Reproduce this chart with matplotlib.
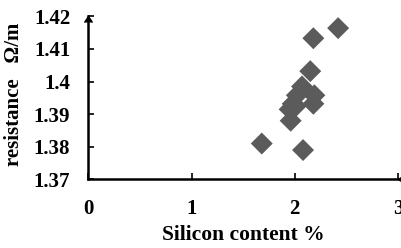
import matplotlib.pyplot as plt

silicon = [2.42, 2.18, 2.15, 2.07, 2.02, 2.19, 1.98, 2.01, 2.18, 1.95, 1.96, 1.68, 2.08]
resistance = [1.4164, 1.4133, 1.4032, 1.3985, 1.3958, 1.3958, 1.3932, 1.3925, 1.3932, 1.3915, 1.3880, 1.3810, 1.3790]

x_ticks = [0, 1, 2, 3]
y_ticks = [1.37, 1.38, 1.39, 1.40, 1.41, 1.42]
y_labels = ["1.37", "1.38", "1.39", "1.4", "1.41", "1.42"]

plt.rcParams['font.family'] = ['Liberation Serif', 'DejaVu Serif']
plt.rcParams['font.weight'] = 'bold'

fig = plt.figure(figsize=(4.01, 2.48), dpi=100)
ax = fig.add_axes([0.2204, 0.2766, 0.7721, 0.6573])

ax.scatter(silicon, resistance, marker='D', s=125, color='#5b5b5b', edgecolors='none', zorder=3)

ax.set_xlim(0, 3)
ax.set_ylim(1.37, 1.42)
ax.set_xticks(x_ticks)
ax.set_yticks(y_ticks)
ax.set_yticklabels(y_labels)
ax.tick_params(direction='in', length=4, width=1.2, labelsize=15)
ax.tick_params(axis='y', pad=13)
ax.tick_params(axis='x', pad=14)
for lbl in ax.get_xticklabels() + ax.get_yticklabels():
    lbl.set_fontweight('bold')

ax.spines['top'].set_visible(False)
ax.spines['right'].set_visible(False)
ax.spines['left'].set_linewidth(1.8)
ax.spines['bottom'].set_linewidth(1.8)

# arrow heads at the axis ends
ax.plot(1, 0, marker=4, color='black', markersize=6, transform=ax.transAxes, clip_on=False)
ax.plot(0, 1, marker=6, color='black', markersize=6, transform=ax.transAxes, clip_on=False)

ax.set_xlabel("Silicon content %", fontsize=15.5, fontweight='bold')
ax.set_ylabel("resistance   Ω/m", fontsize=15, fontweight='bold')
ax.xaxis.set_label_coords(0.5, -0.28)
ax.yaxis.set_label_coords(-0.207, 0.52)

fig.savefig("out.png", dpi=100)
